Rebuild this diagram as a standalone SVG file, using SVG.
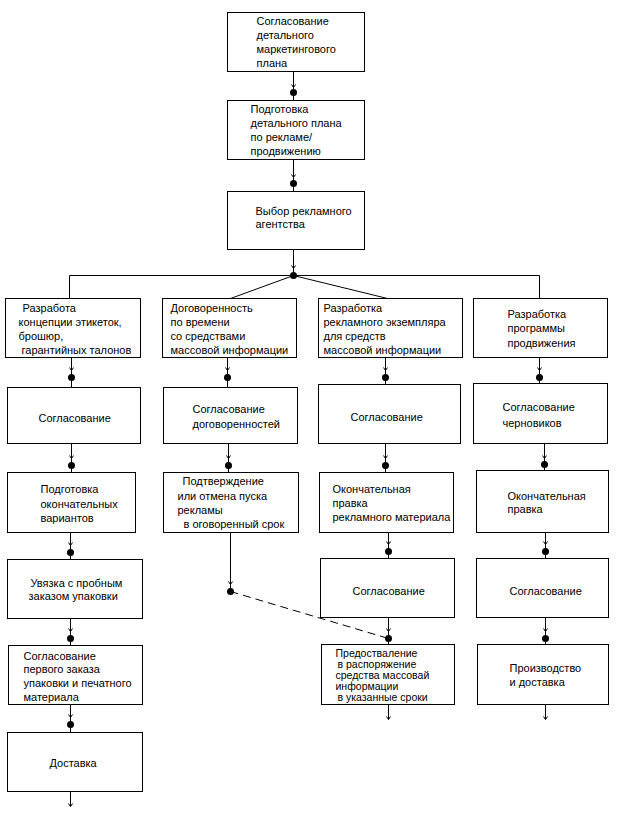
<svg xmlns="http://www.w3.org/2000/svg" width="625" height="816" viewBox="0 0 625 816">
<style>
.box{fill:#fff;stroke:#000;stroke-width:1}
.ln{fill:none;stroke:#000;stroke-width:1}
.dash{fill:none;stroke:#000;stroke-width:1;stroke-dasharray:8 5}
.ah{fill:none;stroke:#000;stroke-width:1}
.dot{fill:#000}
text{font-family:"Liberation Sans",Arial,sans-serif;font-size:11px;fill:#000}
.tight{font-size:10.5px}
</style>
<rect width="625" height="816" fill="#fff"/>
<g transform="translate(0.5,0.5)">
<g id="connectors">
<path class="ln" d="M293,71V100M293,159V191M293,249V275M69,298V275H539V298M293,275L230,298M293,275L387,298"/>
<path class="ln" d="M71,357V387M71,443V472M70,532V559M70,618V645M70,704V732M70,791V806"/>
<path class="ln" d="M227,357V387M228,443V472M230,532V591"/>
<path class="ln" d="M385,357V384M385,443V472M388,532V558M388,617V644M388,704V719"/>
<path class="ln" d="M539,357V383M544,443V470M545,532V558M545,617V644M545,704V719"/>
<path class="dash" d="M230,591L388,638"/>
<path class="ah" d="M291,84L293,87L295,84M291,174L293,177L295,174M291,265L293,268L295,265"/>
<path class="ah" d="M69,367L71,370L73,367M69,455L71,458L73,455M68,542L70,545L72,542M68,628L70,631L72,628M68,714L70,717L72,714M68,803L70,806L72,803"/>
<path class="ah" d="M225,367L227,370L229,367M226,455L228,458L230,455M228,581L230,584L232,581"/>
<path class="ah" d="M383,367L385,370L387,367M383,455L385,458L387,455M386,541L388,544L390,541M386,628L388,631L390,628M386,716L388,719L390,716"/>
<path class="ah" d="M537,367L539,370L541,367M542,455L544,458L546,455M543,541L545,544L547,541M543,628L545,631L547,628M543,716L545,719L547,716"/>
<circle class="dot" cx="293" cy="92" r="3.5"/>
<circle class="dot" cx="293" cy="183" r="3.5"/>
<circle class="dot" cx="293" cy="275" r="3.5"/>
<circle class="dot" cx="71" cy="377" r="3.5"/>
<circle class="dot" cx="71" cy="465" r="3.5"/>
<circle class="dot" cx="70" cy="552" r="3.5"/>
<circle class="dot" cx="70" cy="638" r="3.5"/>
<circle class="dot" cx="70" cy="724" r="3.5"/>
<circle class="dot" cx="227" cy="377" r="3.5"/>
<circle class="dot" cx="228" cy="465" r="3.5"/>
<circle class="dot" cx="230" cy="591" r="3.5"/>
<circle class="dot" cx="385" cy="377" r="3.5"/>
<circle class="dot" cx="385" cy="465" r="3.5"/>
<circle class="dot" cx="388" cy="551" r="3.5"/>
<circle class="dot" cx="388" cy="638" r="3.5"/>
<circle class="dot" cx="539" cy="377" r="3.5"/>
<circle class="dot" cx="544" cy="464" r="3.5"/>
<circle class="dot" cx="545" cy="551" r="3.5"/>
<circle class="dot" cx="545" cy="638" r="3.5"/>
</g>
<g id="m1"><rect class="box" x="227" y="12" width="137" height="59"/>
<text x="256" y="24">Согласование</text><text x="256" y="38">детального</text><text x="256" y="52">маркетингового</text><text x="256" y="66">плана</text></g>
<g id="m2"><rect class="box" x="227" y="100" width="137" height="59"/>
<text x="250" y="112">Подготовка</text><text x="250" y="126">детального плана</text><text x="250" y="140">по рекламе/</text><text x="250" y="154">продвижению</text></g>
<g id="m3"><rect class="box" x="227" y="191" width="137" height="58"/>
<text x="255" y="214">Выбор рекламного</text><text x="255" y="227">агентства</text></g>

<g id="a1"><rect class="box" x="5" y="298" width="135" height="59"/>
<text x="22" y="311">Разработа</text><text x="18" y="325">концепции этикеток,</text><text x="18" y="339">брошюр,</text><text x="21" y="353">гарантийных талонов</text></g>
<g id="b1"><rect class="box" x="162" y="298" width="134" height="59"/>
<text x="170" y="311">Договоренность</text><text x="170" y="325">по времени</text><text x="170" y="339">со средствами</text><text x="170" y="353">массовой информации</text></g>
<g id="c1"><rect class="box" x="318" y="298" width="144" height="59"/>
<text x="323" y="311">Разработка</text><text x="323" y="325">рекламного экземпляра</text><text x="323" y="339">для средств</text><text x="323" y="353">массовой информации</text></g>
<g id="d1"><rect class="box" x="473" y="298" width="134" height="59"/>
<text x="507" y="317">Разработка</text><text x="507" y="331">программы</text><text x="507" y="346">продвижения</text></g>

<g id="a2"><rect class="box" x="7" y="387" width="133" height="56"/>
<text x="38" y="421">Согласование</text></g>
<g id="b2"><rect class="box" x="163" y="387" width="134" height="56"/>
<text x="192" y="412">Согласование</text><text x="192" y="427">договоренностей</text></g>
<g id="c2"><rect class="box" x="318" y="384" width="142" height="59"/>
<text x="350" y="420">Согласование</text></g>
<g id="d2"><rect class="box" x="473" y="383" width="134" height="60"/>
<text x="502" y="410">Согласование</text><text x="502" y="426">черновиков</text></g>

<g id="a3"><rect class="box" x="7" y="472" width="128" height="60"/>
<text x="40" y="492">Подготовка</text><text x="40" y="507">окончательных</text><text x="40" y="521">вариантов</text></g>
<g id="b3"><rect class="box" x="163" y="472" width="135" height="60"/>
<text x="182" y="484">Подтверждение</text><text x="177" y="499">или отмена пуска</text><text x="177" y="513">рекламы</text><text x="183" y="527">в оговоренный срок</text></g>
<g id="c3"><rect class="box" x="319" y="472" width="134" height="60"/>
<text x="332" y="492">Окончательная</text><text x="332" y="506">правка</text><text x="332" y="520">рекламного материала</text></g>
<g id="d3"><rect class="box" x="476" y="470" width="132" height="62"/>
<text x="507" y="499">Окончательная</text><text x="507" y="512">правка</text></g>

<g id="a4"><rect class="box" x="7" y="559" width="135" height="59"/>
<text x="30" y="586">Увязка с пробным</text><text x="28" y="599">заказом упаковки</text></g>
<g id="c4"><rect class="box" x="320" y="558" width="134" height="59"/>
<text x="352" y="594">Согласование</text></g>
<g id="d4"><rect class="box" x="476" y="558" width="132" height="59"/>
<text x="509" y="594">Согласование</text></g>

<g id="a5"><rect class="box" x="8" y="645" width="134" height="59"/>
<text x="23" y="659">Согласование</text><text x="23" y="672">первого заказа</text><text x="23" y="686">упаковки и печатного</text><text x="23" y="700">материала</text></g>
<g id="c5"><rect class="box" x="321" y="644" width="133" height="60"/>
<text class="tight" x="335" y="656">Предоствaление</text><text class="tight" x="337" y="667">в распоряжение</text><text class="tight" x="335" y="678">средства массовай</text><text class="tight" x="335" y="689">информации</text><text class="tight" x="337" y="700">в указанные сроки</text></g>
<g id="d5"><rect class="box" x="477" y="644" width="131" height="60"/>
<text x="509" y="671">Производство</text><text x="509" y="685">и доставка</text></g>

<g id="a6"><rect class="box" x="7" y="732" width="135" height="59"/>
<text x="49" y="766">Доставка</text></g>
</g>
</svg>
